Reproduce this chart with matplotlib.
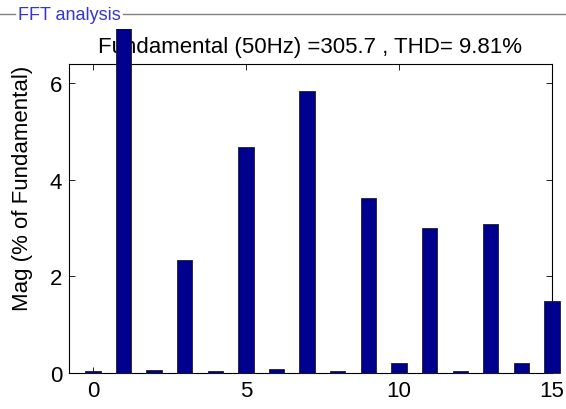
import matplotlib
matplotlib.use('Agg')
import matplotlib.pyplot as plt
from matplotlib.lines import Line2D
from matplotlib.transforms import Bbox, TransformedBbox

# harmonic order and magnitude (% of fundamental)
harmonics = list(range(16))
magnitude = [0.04, 100, 0.07, 2.35, 0.04, 4.68, 0.08, 5.84, 0.04, 3.62,
             0.2, 3.0, 0.04, 3.08, 0.2, 1.49]
title_text = 'Fundamental (50Hz) =305.7 , THD= 9.81%'

plt.rcParams['font.family'] = ['Liberation Sans', 'DejaVu Sans']

W, H = 566, 410
fig = plt.figure(figsize=(W / 100, H / 100), dpi=100)
ax = fig.add_axes([69 / W, 1 - 374 / H, (552 - 69) / W, (374 - 65) / H])

bars = ax.bar(harmonics, magnitude, width=0.5, color='#00008f',
              edgecolor='#202020', linewidth=0.6, zorder=4, clip_on=False)
# the fundamental bar runs off the top of the axes and is cut by the panel
clip = TransformedBbox(Bbox.from_extents(0, 0, 1, 1 - 30 / H), fig.transFigure)
for b in bars:
    b.set_clip_box(clip)
    b.set_clip_on(True)

ax.set_xlim(-0.78, 15)
ax.set_ylim(0, 6.4)
ax.set_xticks([0, 5, 10, 15])
ax.set_yticks([0, 2, 4, 6])
ax.tick_params(direction='in', top=True, right=True, labelsize=16,
               length=4, width=0.6, pad=5)
for s in ax.spines.values():
    s.set_linewidth(0.8)
ax.set_ylabel('Mag (% of Fundamental)', fontsize=16)
ax.yaxis.set_label_coords(-0.074, 0.6)
ax.set_title(title_text, fontsize=16, pad=9)

# panel frame with label
fig.add_artist(Line2D([0, 15 / W], [1 - 15 / H] * 2, color='#808080', lw=1))
fig.add_artist(Line2D([123 / W, 1], [1 - 15 / H] * 2, color='#808080', lw=1))
fig.text(18 / W, 1 - 16 / H, 'FFT analysis', color='#3535d0', fontsize=13,
         family=['Liberation Sans Narrow', 'Liberation Sans'], va='center')

fig.savefig('out.png', dpi=100)
